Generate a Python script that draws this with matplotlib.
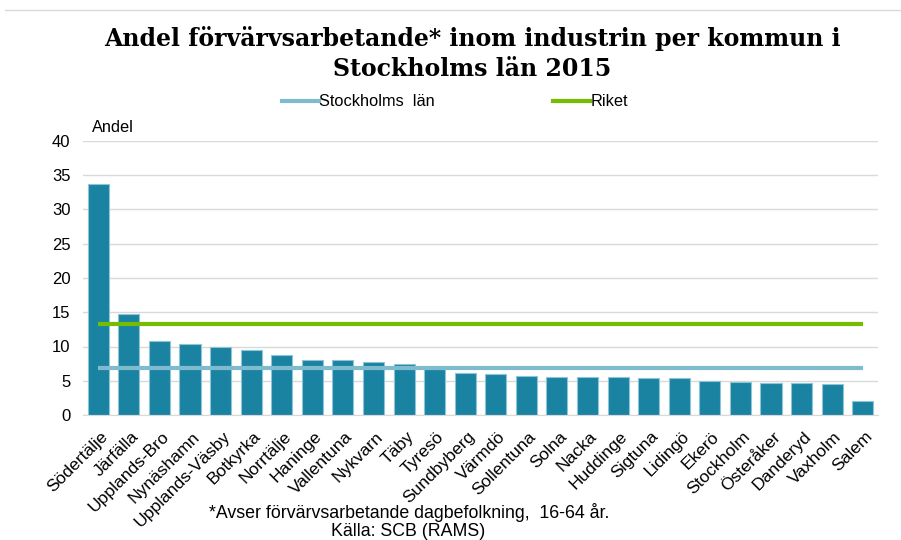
import matplotlib
matplotlib.use("Agg")
import matplotlib.pyplot as plt
import matplotlib.transforms as mtransforms
from matplotlib.lines import Line2D

kommuner = ["Södertälje", "Järfälla", "Upplands-Bro", "Nynäshamn", "Upplands-Väsby",
            "Botkyrka", "Norrtälje", "Haninge", "Vallentuna", "Nykvarn", "Täby", "Tyresö",
            "Sundbyberg", "Värmdö", "Sollentuna", "Solna", "Nacka", "Huddinge", "Sigtuna",
            "Lidingö", "Ekerö", "Stockholm", "Österåker", "Danderyd", "Vaxholm", "Salem"]
andel = [33.7, 14.7, 10.8, 10.4, 10.0, 9.5, 8.8, 8.0, 8.0, 7.7, 7.4, 6.7,
         6.1, 6.0, 5.7, 5.6, 5.6, 5.6, 5.35, 5.35, 4.95, 4.8, 4.7, 4.7, 4.55, 2.05]
stockholms_lan = 6.8
riket = 13.3
yticks = [0, 5, 10, 15, 20, 25, 30, 35, 40]

plt.rcParams['font.family'] = ['Liberation Sans', 'DejaVu Sans']

fig = plt.figure(figsize=(9.01, 5.40), dpi=100)
ax = fig.add_axes([83/901, 1-415/540, 795/901, (415-141)/540])

x = list(range(len(kommuner)))
ax.bar(x, andel, width=0.69, color="#1B83A2", edgecolor="#8CC5D6", linewidth=0.8, zorder=2)
ax.plot([x[0], x[-1]], [stockholms_lan]*2, color="#7FBBCE", lw=3, zorder=3, solid_capstyle='butt')
ax.plot([x[0], x[-1]], [riket]*2, color="#76BC00", lw=3, zorder=3, solid_capstyle='butt')

ax.set_xlim(-0.5, len(kommuner)-0.5)
ax.set_ylim(0, 40)
ax.set_yticks(yticks)
ax.set_yticklabels([str(t) for t in yticks], fontsize=12)
ax.yaxis.grid(True, color="#D9D9D9", lw=1)
ax.set_axisbelow(True)
ax.set_xticks(x)
ax.set_xticklabels(kommuner, rotation=45, ha='right', rotation_mode='anchor', fontsize=12.6)
ax.tick_params(axis='x', length=0, pad=10)
ax.tick_params(axis='y', length=0, pad=9)
offset = mtransforms.ScaledTranslation(2/100, 0, fig.dpi_scale_trans)
for lbl in ax.get_xticklabels():
    lbl.set_transform(lbl.get_transform() + offset)
for s in ['top', 'right', 'left']:
    ax.spines[s].set_visible(False)
ax.spines['bottom'].set_color("#D9D9D9")

fig.text(92/901, 1-127/540, "Andel", fontsize=11.8, va='center', ha='left')

fig.suptitle("Andel förvärvsarbetande* inom industrin per kommun i\nStockholms län 2015",
             x=472/901, y=1-26/540, fontsize=17, fontweight='bold', family='DejaVu Serif',
             va='top', linespacing=1.33)

handles = [Line2D([], [], color="#7FBBCE", lw=3), Line2D([], [], color="#76BC00", lw=3)]
fig.legend(handles, ["Stockholms  län", "Riket"], loc='center', bbox_to_anchor=(455/901, 1-102/540),
           ncol=2, frameon=False, fontsize=11.8, handlelength=2.25, handletextpad=0.05,
           columnspacing=7.2, borderpad=0, borderaxespad=0)

fig.text(409/901, 1-512/540, "*Avser förvärvsarbetande dagbefolkning,  16-64 år.", fontsize=12.8,
         ha='center', va='center')
fig.text(408/901, 1-531/540, "Källa: SCB (RAMS)", fontsize=12.8, ha='center', va='center')

fig.add_artist(Line2D([5/901, 1], [1-10/540]*2, color="#D9D9D9", lw=1))

fig.savefig("out.png", dpi=100)
